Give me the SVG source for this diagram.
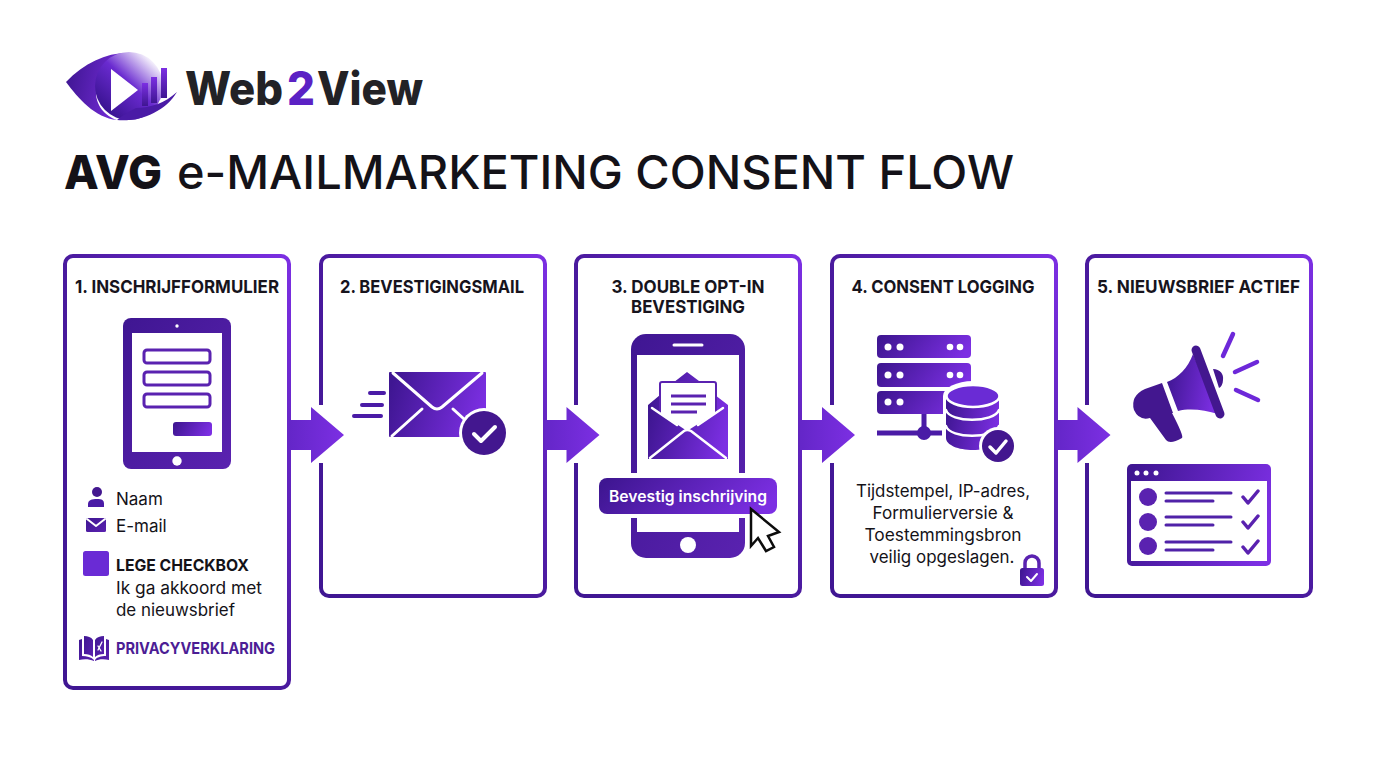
<svg xmlns="http://www.w3.org/2000/svg" width="1376" height="768" viewBox="0 0 1376 768">
<style>
text{font-family:"Inter","Liberation Sans",sans-serif;fill:#141218}
.card{fill:#fff;stroke:url(#edge);stroke-width:4}
.h{font-size:18px;font-weight:700;text-anchor:middle;fill:#17141d}
.b{font-size:17px;font-weight:400}
.c{font-size:17px;font-weight:400;text-anchor:middle}
.bold{font-size:16px;font-weight:700}
.logo{font-size:46px;font-weight:800;fill:#222226}
.f{fill:url(#g)}
.gd{fill:url(#dark)}
.d{fill:#43178f}
.w{fill:#fff}
.wl{fill:none;stroke:#fff;stroke-width:3;stroke-linecap:round;stroke-linejoin:round}
.pl{fill:none;stroke:#5a22b0;stroke-width:3.5;stroke-linecap:round;stroke-linejoin:round}
.ray{fill:none;stroke:#6d28d9;stroke-width:4.500;stroke-linecap:round}
</style>
<defs>
<linearGradient id="g" x1="0" y1="0.3" x2="1" y2="0.5"><stop offset="0" stop-color="#3f1692"/><stop offset="1" stop-color="#7c2fe3"/></linearGradient>
<linearGradient id="dark" x1="0" y1="0" x2="1" y2="1"><stop offset="0" stop-color="#3f1692"/><stop offset="1" stop-color="#5a22b0"/></linearGradient>
<linearGradient id="edge" x1="0" y1="1" x2="1" y2="0"><stop offset="0" stop-color="#3f1692"/><stop offset="0.5" stop-color="#4a1a9e"/><stop offset="1" stop-color="#7c2fe3"/></linearGradient>
<linearGradient id="disc" x1="0.1" y1="0.9" x2="0.85" y2="0.1"><stop offset="0" stop-color="#34108a"/><stop offset="0.55" stop-color="#6a2bd0"/><stop offset="1" stop-color="#ffffff"/></linearGradient>
<linearGradient id="bar" x1="0" y1="1" x2="0" y2="0"><stop offset="0" stop-color="#3f1692"/><stop offset="1" stop-color="#7c2fe3"/></linearGradient>
<linearGradient id="arr" x1="0" y1="0" x2="1" y2="0"><stop offset="0" stop-color="#6426c8"/><stop offset="1" stop-color="#7c2fe3"/></linearGradient>
<path id="arrow" d="M0,-15H22V-28L55,0L22,28V15H0Z" fill="url(#arr)"/>
</defs>
<rect width="1376" height="768" fill="#fff"/>

<g id="logo">
<path class="f" d="M66,82C85,62 108,52 130,53C116,58 98,70 96,90C95,105 105,116 117,120C95,118 78,98 66,82Z"/>
<circle cx="129" cy="86" r="34" fill="url(#disc)"/>
<path d="M117,120C140,122 165,112 177,92C165,103 150,108 136,108C128,112 122,116 117,120Z" fill="#4a1ba6"/>
<path class="w" d="M111,69L138,90L111,111Z"/>
<rect x="142" y="83" width="6" height="23" fill="url(#bar)"/>
<rect x="151" y="77" width="6" height="26" fill="url(#bar)"/>
<rect x="161" y="68" width="6" height="30" fill="url(#bar)"/>
<text class="logo" x="185" y="105" textLength="98" lengthAdjust="spacingAndGlyphs">Web</text>
<text class="logo" x="287" y="105" textLength="28" lengthAdjust="spacingAndGlyphs" style="fill:#5b21c4">2</text>
<text class="logo" x="317" y="105" textLength="106" lengthAdjust="spacingAndGlyphs">View</text>
</g>

<g id="title">
<text x="64" y="189" font-size="47" font-weight="800" textLength="98" lengthAdjust="spacingAndGlyphs">AVG</text>
<text x="177" y="189" font-size="47" font-weight="500" textLength="837" lengthAdjust="spacingAndGlyphs">e-MAILMARKETING CONSENT FLOW</text>
</g>

<g id="step1">
<rect class="card" x="65" y="256" width="224" height="432" rx="8"/>
<text class="h" x="177" y="293" textLength="204" lengthAdjust="spacingAndGlyphs">1. INSCHRIJFFORMULIER</text>
<rect x="123" y="318" width="108" height="151" rx="8" class="gd"/>
<rect x="132" y="333" width="90" height="119" class="w"/>
<circle cx="177" cy="326" r="1.7" class="w"/>
<circle cx="177" cy="461" r="4.700" class="w"/>
<rect x="144" y="350" width="66" height="13" rx="3" fill="#fff" stroke="#5a22b0" stroke-width="3"/>
<rect x="144" y="372" width="66" height="13" rx="3" fill="#fff" stroke="#5a22b0" stroke-width="3"/>
<rect x="144" y="394" width="66" height="13" rx="3" fill="#fff" stroke="#5a22b0" stroke-width="3"/>
<rect x="173" y="422" width="39" height="14" rx="3" class="f"/>
<circle cx="97" cy="492" r="5" class="d"/>
<path d="M88,507V504C88,500 92,499 97,499C102,499 104,500 104,504V507Z" fill="#4a1ba6"/>
<text class="b" x="116" y="505">Naam</text>
<rect x="86" y="518" width="20" height="14" rx="1.500" class="gd"/>
<path class="wl" d="M87,519L96,526L105,519" style="stroke-width:2"/>
<text class="b" x="116" y="532">E-mail</text>
<rect x="83" y="551" width="26" height="25" rx="2.500" fill="#6a2bd5"/>
<text class="bold" x="116" y="571" textLength="133" lengthAdjust="spacingAndGlyphs">LEGE CHECKBOX</text>
<text class="b" x="116" y="594" textLength="146" lengthAdjust="spacingAndGlyphs">Ik ga akkoord met</text>
<text class="b" x="116" y="616" textLength="119" lengthAdjust="spacingAndGlyphs">de nieuwsbrief</text>
<path class="gd" d="M79,640L82,639V656C87,656 91,657 94,660V661C89,659 84,659 79,660Z"/>
<path class="gd" d="M84,636C88,636 91,637 93,640V657C91,655 88,654 84,654Z"/>
<path class="gd" d="M95,640C97,637 100,636 104,636V654C100,654 97,655 95,657Z"/>
<path class="gd" d="M109,640L106,639V656C101,656 97,657 95,660V661C99,659 104,659 109,660Z"/>
<path class="wl" d="M98,650L102,642M98,646L101,651" style="stroke-width:1.300"/>
<text class="bold" x="116" y="654" textLength="159" lengthAdjust="spacingAndGlyphs" style="fill:#4c1d95">PRIVACYVERKLARING</text>
</g>

<g id="step2">
<rect class="card" x="321" y="256" width="224" height="340" rx="8"/>
<text class="h" x="432" y="293" textLength="184" lengthAdjust="spacingAndGlyphs">2. BEVESTIGINGSMAIL</text>
<rect x="389" y="372" width="97" height="65" rx="1" class="f"/>
<path class="wl" d="M393,373L432,407Q437,411 442,407L482,373M392,436L422,409M453,409L464,419"/>
<path d="M370,393H384M362,405H382M354,416H381" fill="none" stroke="#4a1ba6" stroke-width="4" stroke-linecap="round"/>
<circle cx="484" cy="433" r="25" class="w"/>
<circle cx="484" cy="433" r="22" class="d"/>
<path class="wl" d="M474,434L481,441L495,427" style="stroke-width:4"/>
</g>

<g id="step3">
<rect class="card" x="576" y="256" width="224" height="340" rx="8"/>
<text class="h" x="688" y="293" textLength="153" lengthAdjust="spacingAndGlyphs">3. DOUBLE OPT-IN</text>
<text class="h" x="688" y="313" textLength="114" lengthAdjust="spacingAndGlyphs">BEVESTIGING</text>
<rect x="631" y="334" width="114" height="224" rx="15" class="gd"/>
<rect x="637" y="355" width="102" height="177" class="w"/>
<path class="wl" d="M674,345H702"/>
<circle cx="688" cy="545" r="8" class="w"/>
<rect x="625" y="473" width="126" height="45" class="w"/>
<path class="f" d="M648,405L660,395V393L687,372L715,393V395L728,405V459H648Z"/>
<path class="w" d="M660,384Q660,382 662,382H714Q716,382 716,384V417L688,436L660,417Z" stroke="#5a22b0" stroke-width="2"/>
<path d="M671,396H706M671,404H706M671,412H697" fill="none" stroke="#5a22b0" stroke-width="3"/>
<path class="f" d="M648,405L687,431L728,405V459H648Z"/>
<path class="wl" d="M652,408L677,425M723,408L698,425M650,458L684,431Q687,429 691,431L726,458" style="stroke-width:2.500"/>
<rect x="599" y="478" width="178" height="36" rx="8" class="f"/>
<text x="688" y="502" font-size="16" font-weight="600" text-anchor="middle" textLength="158" lengthAdjust="spacingAndGlyphs" style="fill:#fff">Bevestig inschrijving</text>
<path d="M751,509L779,532L768,536L774,547L766,551L758,538L751,546Z" fill="#fff" stroke="#0c0c0c" stroke-width="2.500"/>
</g>

<g id="step4">
<rect class="card" x="832" y="256" width="224" height="340" rx="8"/>
<text class="h" x="943" y="293" textLength="183" lengthAdjust="spacingAndGlyphs">4. CONSENT LOGGING</text>
<rect x="877" y="335" width="94" height="23" rx="4" class="f"/>
<rect x="877" y="363" width="94" height="24" rx="4" class="f"/>
<rect x="877" y="391" width="94" height="23" rx="4" class="f"/>
<g class="w">
<circle cx="888" cy="347" r="3.500"/><circle cx="900" cy="347" r="3.500"/><circle cx="950" cy="347" r="3.300"/><circle cx="960" cy="347" r="3.300"/>
<circle cx="888" cy="375" r="3.500"/><circle cx="900" cy="375" r="3.500"/><circle cx="950" cy="375" r="3.300"/><circle cx="960" cy="375" r="3.300"/>
<circle cx="888" cy="402" r="3.500"/><circle cx="900" cy="402" r="3.500"/>
</g>
<path d="M924,414V433M877,433H942" fill="none" stroke="#4a1ba6" stroke-width="5"/>
<circle cx="924" cy="433" r="7" fill="#4a1ba6"/>
<ellipse cx="973" cy="396" rx="30" ry="15" class="w"/>
<rect x="943" y="396" width="60" height="58" class="w"/>
<path class="f" d="M946,396V438C946,445 958,450 973,450C988,450 999,445 999,438V396Z"/>
<ellipse cx="973" cy="396" rx="26.500" ry="11" stroke="#fff" stroke-width="2.500" fill="#6a2bd5"/>
<path class="wl" d="M946,410C950,423 994,423 999,410M946,426C950,439 994,439 999,426" style="stroke-width:2.500"/>
<circle cx="998" cy="446" r="19" class="w"/>
<circle cx="998" cy="446" r="16" class="d"/>
<path class="wl" d="M990,447L996,453L1006,441" style="stroke-width:3.500"/>
<text class="c" x="943" y="497" textLength="174" lengthAdjust="spacingAndGlyphs">Tijdstempel, IP-adres,</text>
<text class="c" x="943" y="519" textLength="141" lengthAdjust="spacingAndGlyphs">Formulierversie &amp;</text>
<text class="c" x="943" y="541" textLength="157" lengthAdjust="spacingAndGlyphs">Toestemmingsbron</text>
<text class="c" x="942" y="563" textLength="145" lengthAdjust="spacingAndGlyphs">veilig opgeslagen.</text>
<path d="M1025,569V563A7,7 0 0 1 1039,563V569" fill="none" stroke="#5a22b0" stroke-width="3.500"/>
<rect x="1020" y="568" width="24" height="18" rx="2.500" class="f"/>
<path class="wl" d="M1027,577L1031,581L1037,574" style="stroke-width:2"/>
</g>

<g id="step5">
<rect class="card" x="1087" y="256" width="224" height="340" rx="8"/>
<text class="h" x="1198.500" y="293" textLength="203" lengthAdjust="spacingAndGlyphs">5. NIEUWSBRIEF ACTIEF</text>
<path class="d" d="M1162,383L1145,389Q1130,396 1134,410Q1139,421 1150,418L1166,440Q1170,445 1182,438Q1184,436 1172,413L1173,413Z"/>
<path class="f" d="M1167,382C1178,378 1188,368 1193,354L1218,414C1205,410 1190,408 1178,411Z"/>
<path d="M1196,350L1220,414" fill="none" stroke="#43178f" stroke-width="9" stroke-linecap="round"/>
<path class="d" d="M1213,369C1220,369 1224,374 1223,380C1223,384 1221,387 1219,388Z"/>
<path class="ray" d="M1233,334L1223,356M1257,362L1235,372M1236,390L1258,400"/>
<rect x="1127" y="464" width="144" height="102" rx="5" class="f"/>
<rect x="1131" y="481" width="136" height="80" class="w"/>
<g class="w"><circle cx="1137" cy="473" r="2.500"/><circle cx="1146" cy="473" r="2.500"/><circle cx="1156" cy="473" r="2.500"/></g>
<g fill="#5a22b0"><circle cx="1148" cy="497" r="9"/><circle cx="1148" cy="522" r="9"/><circle cx="1148" cy="546" r="9"/></g>
<path d="M1166,493H1231M1166,501H1213M1166,517H1231M1166,525H1213M1166,542H1231M1166,550H1213" fill="none" stroke="#5022a8" stroke-width="3" stroke-linecap="round"/>
<path class="pl" d="M1243,497L1248,503L1258,491M1243,522L1248,528L1258,516M1243,547L1248,553L1258,541"/>
</g>

<g id="connectors">
<rect x="317" y="405" width="6" height="58" fill="#fff"/>
<rect x="572" y="405" width="6" height="58" fill="#fff"/>
<rect x="828" y="405" width="6" height="58" fill="#fff"/>
<rect x="1083" y="405" width="6" height="58" fill="#fff"/>
<use href="#arrow" x="289" y="435"/>
<use href="#arrow" x="544.500" y="435"/>
<use href="#arrow" x="800" y="435"/>
<use href="#arrow" x="1055.500" y="435"/>
</g>
</svg>
